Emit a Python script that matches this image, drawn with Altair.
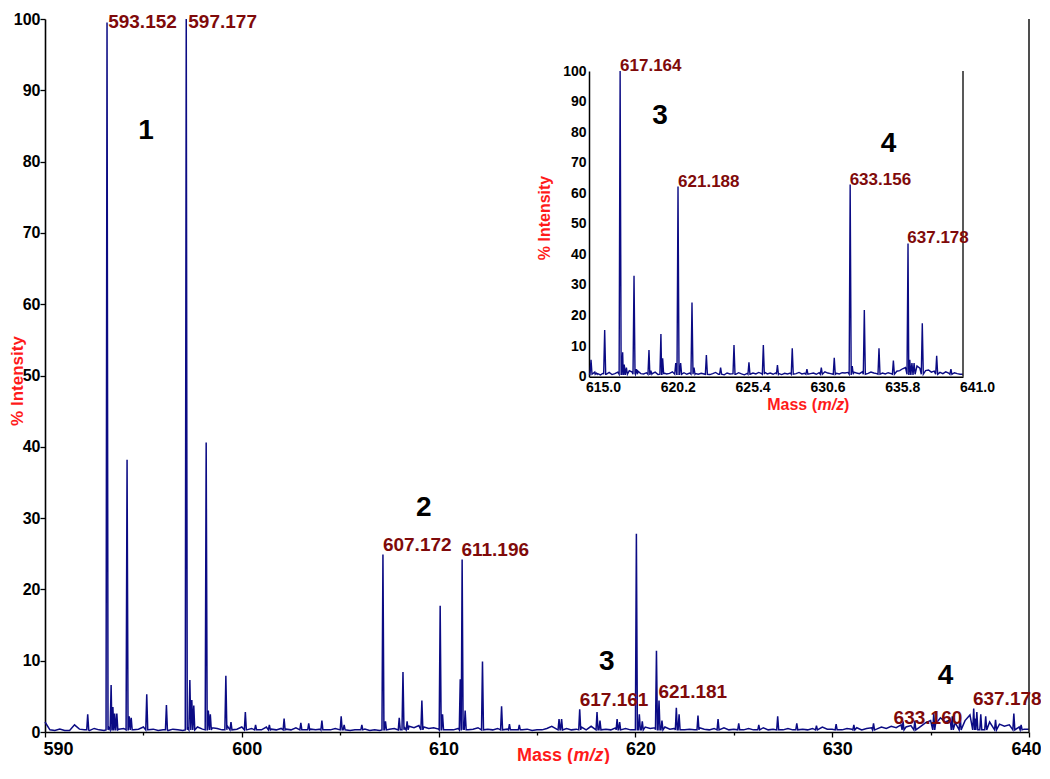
import altair as alt
import pandas as pd

FONT = "Liberation Sans"
LINE = "#0b0b84"
LABEL_RED = "#7f0a0a"
TITLE_RED = "#ff1a1a"

# ---------------- main spectrum data ----------------
main_noise_start = 590.0
main_noise_step = 0.25
main_noise = [
    1.4, 0.3, 0.2, 0.4, 0.2, 0.2, 1.0, 0.4,
    0.3, 0.2, 0.5, 0.3, 0.2, 0.6, 0.7, 0.4,
    0.5, 0.4, 0.3, 0.4, 0.7, 0.3, 0.4, 0.2,
    0.3, 0.2, 0.4, 0.3, 0.2, 0.6, 0.9, 0.7,
    0.4, 0.7, 0.6, 0.5, 0.3, 0.9, 0.5, 0.4,
    0.7, 0.3, 0.5, 0.6, 0.3, 0.7, 0.4, 0.3,
    0.5, 0.4, 0.3, 0.6, 0.7, 0.3, 0.4, 0.3,
    0.4, 0.3, 0.3, 0.5, 0.6, 0.4, 0.2, 0.3,
    0.3, 0.4, 0.2, 0.3, 0.2, 0.6, 0.4, 0.5,
    0.9, 0.7, 0.8, 0.6, 0.9, 0.7, 0.5, 0.6,
    0.4, 0.7, 0.3, 0.3, 0.5, 0.7, 0.3, 0.4,
    0.6, 0.3, 0.4, 0.3, 0.5, 0.3, 0.4, 0.3,
    0.3, 0.3, 0.4, 0.2, 0.3, 0.3, 0.5, 0.8,
    0.4, 0.9, 0.5, 0.3, 0.4, 0.7, 0.3, 0.8,
    0.5, 1.0, 0.4, 0.3, 0.6, 1.0, 0.5, 0.3,
    0.4, 0.9, 0.7, 0.5, 0.6, 1.2, 0.7, 0.4,
    0.5, 0.8, 0.3, 0.4, 0.3, 0.6, 0.4, 0.3,
    0.5, 0.3, 0.6, 0.3, 0.4, 0.7, 0.3, 0.5,
    0.3, 0.4, 0.6, 0.3, 0.4, 0.7, 0.3, 0.5,
    0.3, 0.6, 0.4, 0.3, 0.5, 0.3, 0.7, 0.4,
    0.4, 0.7, 0.3, 0.5, 0.4, 0.6, 0.3, 0.5,
    0.6, 0.4, 0.7, 0.5, 0.8, 0.6, 1.0, 0.7,
    0.9, 1.2, 0.8, 1.3, 1.6, 1.1, 2.0, 1.4,
    1.7, 1.3, 2.2, 1.6, 2.4, 1.9, 2.3, 1.7,
    1.4, 1.8, 1.1, 0.8, 1.0, 0.6, 0.7, 0.4,
    0.4,
]
main_peak_mass = [
    592.17, 593.152, 593.36, 593.45, 593.54, 593.65, 594.17, 594.28, 594.38,
    595.17, 596.17, 597.177, 597.36, 597.46, 597.56, 598.19, 598.30, 598.40,
    599.19, 599.45, 600.18, 600.70, 601.40, 602.15, 603.00, 603.40, 604.07,
    605.05, 605.20, 606.10, 607.172, 607.30, 608.00, 608.19, 608.40, 609.15,
    610.08, 610.20, 611.10, 611.196, 611.35, 612.23, 613.20, 613.60, 614.10,
    616.12, 616.25, 617.17, 618.05, 618.20, 619.07, 619.20, 620.05, 620.20,
    620.35, 621.07, 621.20, 621.35, 622.08, 622.22, 623.18, 624.20, 625.25,
    626.27, 627.23, 628.20, 629.20, 630.20, 631.10, 632.10, 633.60, 634.20,
    635.16, 636.10, 636.50, 637.19, 637.35, 637.55, 637.80, 638.30, 639.23,
    639.60,
]
main_peak_height = [
    2.5, 99.5, 6.6, 3.5, 2.6, 2.6, 38.2, 2.2, 2.0,
    5.3, 3.8, 100.0, 7.3, 4.5, 3.7, 40.6, 3.0, 2.5,
    7.9, 1.4, 2.8, 1.0, 1.0, 1.9, 1.3, 1.2, 1.6,
    2.2, 1.0, 1.0, 24.9, 1.5, 2.0, 8.4, 1.5, 4.4,
    17.7, 2.5, 7.4, 24.2, 3.0, 9.9, 3.6, 1.1, 1.0,
    1.8, 1.8, 3.2, 2.8, 1.6, 1.8, 1.4, 27.8, 2.5,
    1.5, 11.4, 4.4, 1.6, 3.4, 2.5, 2.3, 1.8, 1.2,
    1.0, 2.2, 1.2, 0.9, 1.1, 1.0, 1.2, 1.5, 1.6,
    2.6, 2.2, 2.4, 3.3, 2.8, 2.5, 2.2, 1.7, 2.6,
    1.0,
]
main_label_text = ["593.152", "597.177", "607.172", "611.196", "617.161", "621.181", "633.160", "637.178"]
main_label_mass = [593.21, 597.28, 607.17, 611.16, 617.17, 621.17, 633.12, 637.15]
main_label_y = [98.8, 98.8, 25.4, 24.65, 3.6, 4.7, 1.1, 3.75]
main_group_text = ["1", "2", "3", "4"]
main_group_mass = [595.13, 609.25, 618.55, 635.76]
main_group_y = [84.3, 31.4, 9.8, 7.9]

# ---------------- inset spectrum data ----------------
inset_noise_start = 615.0
inset_noise_step = 0.2
inset_noise = [
    1.0, 0.5, 1.5, 1.0, 0.6, 1.2, 0.8, 1.4, 0.7, 1.0,
    1.5, 2.5, 3.0, 2.2, 2.0, 1.5, 1.2, 1.8, 1.0, 0.9,
    1.3, 0.8, 1.0, 1.5, 0.7, 1.8, 1.2, 0.9, 1.1, 1.6,
    1.0, 1.4, 1.8, 1.3, 0.8, 1.2, 1.5, 1.0, 0.8, 1.1,
    0.9, 1.2, 0.7, 1.0, 1.4, 0.8, 1.1, 0.6, 1.2, 0.9,
    1.0, 0.8, 1.3, 0.9, 0.6, 1.1, 0.8, 1.2, 0.9, 1.4,
    1.0, 1.5, 0.9, 1.2, 0.8, 1.3, 1.0, 0.7, 1.1, 0.9,
    1.2, 0.8, 1.0, 1.4, 0.9, 1.1, 1.5, 1.0, 1.2, 0.8,
    1.3, 1.0, 1.6, 1.2, 1.0, 1.4, 1.1, 0.9, 1.3, 1.2,
    1.4, 1.8, 1.5, 1.2, 1.0, 1.6, 1.3, 1.1, 1.5, 1.2,
    1.0, 1.4, 1.2, 0.9, 1.3, 1.0, 1.5, 1.8, 2.0, 2.6,
    3.0, 4.0, 4.5, 3.8, 3.5, 2.8, 2.5, 2.0, 2.2, 1.5,
    1.8, 1.2, 1.4, 1.0, 1.6, 1.2, 0.9, 1.3, 1.0, 0.8,
    0.8,
]
inset_peak_mass = [
    615.14, 615.50, 616.09, 617.164, 617.34, 617.45, 617.60, 618.13, 618.30,
    619.17, 619.30, 620.00, 620.12, 621.03, 621.188, 621.37, 622.16, 622.30,
    623.16, 624.15, 625.08, 626.12, 627.12, 628.10, 629.13, 630.15, 631.15,
    632.05, 633.156, 633.30, 634.14, 635.16, 636.16, 637.178, 637.30, 637.45,
    637.60, 638.17, 639.17, 640.16,
]
inset_peak_height = [
    5.5, 1.2, 15.3, 100.0, 8.0, 4.0, 3.0, 33.0, 2.5,
    8.7, 2.0, 14.0, 6.0, 4.5, 62.2, 4.5, 24.3, 3.0,
    7.1, 3.0, 10.4, 4.7, 10.4, 3.8, 9.3, 2.5, 3.0,
    6.2, 62.9, 3.5, 21.8, 9.3, 5.3, 43.6, 5.5, 4.5,
    4.5, 17.5, 6.8, 2.5,
]
inset_label_text = ["617.164", "621.188", "633.156", "637.178"]
inset_label_mass = [617.16, 621.19, 633.12, 637.13]
inset_label_y = [100.0, 62.2, 62.7, 43.6]
inset_group_text = ["3", "4"]
inset_group_mass = [619.94, 635.82]
inset_group_y = [85.4, 76.2]
inset_ticks = [615.0, 620.2, 625.4, 630.6, 635.8, 641.0]


def build_trace(start, step, noise, pmass, pheight, half_w, base):
    pts = []
    for i, v in enumerate(noise):
        m = round(start + i * step, 4)
        if all(abs(m - pm) > half_w for pm in pmass):
            pts.append((m, v))
    for pm, ph in zip(pmass, pheight):
        pts += [(pm - half_w, base), (pm, ph), (pm + half_w, base)]
    pts.sort()
    return pd.DataFrame(pts, columns=["mz", "inten"])


main_df = build_trace(main_noise_start, main_noise_step, main_noise,
                      main_peak_mass, main_peak_height, 0.05, 0.3)
inset_df = build_trace(inset_noise_start, inset_noise_step, inset_noise,
                       inset_peak_mass, inset_peak_height, 0.07, 0.8)

W, H = 984, 713
# inset placement inside plot area (pixels)
IX0, IX1 = 544, 918
IY0, IY1 = 357.7, 52

# ---------------- main layers ----------------
mx = alt.Scale(domain=[590, 640], nice=False, zero=False)
my = alt.Scale(domain=[0, 100], nice=False)

x_axis = alt.Axis(
    title=None, grid=False,
    values=list(range(590, 641, 5)),
    labelExpr="datum.value % 10 === 0 ? datum.label : ''",
    tickSize={"condition": {"test": "datum.value % 10 === 0", "value": 5}, "value": 3},
    tickColor="black", tickWidth=1.3,
    domainColor="black", domainWidth=1.6,
    labelFont=FONT, labelFontSize=18, labelFontWeight="bold", labelColor="black",
    labelPadding=3, labelOffset=5, labelFlush=True, labelFlushOffset=7,
    labelOverlap=False,
)
y_axis = alt.Axis(
    title=None, grid=False,
    values=list(range(0, 101, 5)),
    labelExpr="datum.value % 10 === 0 ? datum.label : ''",
    tickSize={"condition": {"test": "datum.value % 10 === 0", "value": 5}, "value": 3},
    tickColor="black", tickWidth=1.3,
    domainColor="black", domainWidth=1.6,
    labelFont=FONT, labelFontSize=16, labelFontWeight="bold", labelColor="black",
    labelPadding=0, labelFlush=False, labelOverlap=False,
)

main_line = alt.Chart(main_df).mark_line(color=LINE, strokeWidth=1.5).encode(
    x=alt.X("mz:Q", scale=mx, axis=x_axis),
    y=alt.Y("inten:Q", scale=my, axis=y_axis),
)

main_border = alt.Chart(pd.DataFrame({"mz": [640.0], "inten": [0.0], "top": [100.0]})).mark_rule(
    color="#222222", strokeWidth=1.6
).encode(x="mz:Q", y="inten:Q", y2="top:Q")

main_labels = alt.Chart(pd.DataFrame({
    "mz": main_label_mass, "inten": main_label_y, "label": main_label_text
})).mark_text(align="left", baseline="alphabetic", font=FONT, fontSize=19,
              fontWeight="bold", color=LABEL_RED).encode(x="mz:Q", y="inten:Q", text="label:N")

main_groups = alt.Chart(pd.DataFrame({
    "mz": main_group_mass, "inten": main_group_y, "label": main_group_text
})).mark_text(align="center", baseline="middle", font=FONT, fontSize=28,
              fontWeight="bold", color="black").encode(x="mz:Q", y="inten:Q", text="label:N")

one = alt.Data(values=[{"k": 1}])


def txt(text, x, y, size, align="center", baseline="alphabetic", angle=0, style="normal", color=TITLE_RED):
    kw = dict(text=text, align=align, baseline=baseline, font=FONT, fontSize=size,
              fontWeight="bold", color=color, fontStyle=style)
    if angle:
        kw["angle"] = angle
    return alt.Chart(one).mark_text(**kw).encode(x=alt.value(x), y=alt.value(y))


titles = [
    txt("% Intensity", -27.5, 362, 17, baseline="middle", angle=270),
    txt("Mass (", 528, 742, 18, align="right"),
    txt("m/z", 528.5, 742, 18, align="left", style="italic"),
    txt(")", 559, 742, 18, align="left"),
    txt("% Intensity", 500, 199, 16, baseline="middle", angle=270),
    txt("Mass (", 772, 391, 16, align="right"),
    txt("m/z", 772.5, 391, 16, align="left", style="italic"),
    txt(")", 799, 391, 16, align="left"),
]

main_layer = alt.layer(main_line, main_border, main_labels, main_groups, *titles)

# ---------------- inset layers ----------------
ix = alt.Scale(domain=[615.0, 641.0], range=[IX0, IX1], nice=False, zero=False)
iy = alt.Scale(domain=[0, 100], range=[IY0, IY1], nice=False)

ix_axis = alt.Axis(
    orient="bottom", offset=-(H - IY0), title=None, grid=False, ticks=False,
    values=inset_ticks, format=".1f",
    domainColor="black", domainWidth=1.5,
    labelFont=FONT, labelFontSize=14, labelFontWeight="bold", labelColor="black",
    labelPadding=4, labelOffset=14, labelFlush=False, labelOverlap=False,
)
iy_axis = alt.Axis(
    orient="left", offset=-IX0, title=None, grid=False, ticks=False,
    values=list(range(0, 101, 10)),
    domainColor="black", domainWidth=1.5,
    labelFont=FONT, labelFontSize=14, labelFontWeight="bold", labelColor="black",
    labelPadding=3, labelFlush=False, labelOverlap=False,
)

inset_line = alt.Chart(inset_df).mark_line(color=LINE, strokeWidth=1.4).encode(
    x=alt.X("mz:Q", scale=ix, axis=ix_axis),
    y=alt.Y("inten:Q", scale=iy, axis=iy_axis),
)
inset_border = alt.Chart(pd.DataFrame({"mz": [641.0], "inten": [0.0], "top": [100.0]})).mark_rule(
    color="#222222", strokeWidth=1.5
).encode(x="mz:Q", y="inten:Q", y2="top:Q")
inset_labels = alt.Chart(pd.DataFrame({
    "mz": inset_label_mass, "inten": inset_label_y, "label": inset_label_text
})).mark_text(align="left", baseline="alphabetic", font=FONT, fontSize=17,
              fontWeight="bold", color=LABEL_RED).encode(x="mz:Q", y="inten:Q", text="label:N")
inset_groups = alt.Chart(pd.DataFrame({
    "mz": inset_group_mass, "inten": inset_group_y, "label": inset_group_text
})).mark_text(align="center", baseline="middle", font=FONT, fontSize=28,
              fontWeight="bold", color="black").encode(x="mz:Q", y="inten:Q", text="label:N")

inset_layer = alt.layer(inset_line, inset_border, inset_labels, inset_groups)

chart = alt.layer(main_layer, inset_layer).resolve_scale(
    x="independent", y="independent"
).properties(
    width=W, height=H,
    autosize=alt.AutoSizeParams(type="none"),
    padding={"left": 37, "top": 11, "right": 12, "bottom": 32},
    background="white",
).configure_view(strokeWidth=0)

chart.save("out.html", embed_options={"renderer": "svg", "actions": False})
